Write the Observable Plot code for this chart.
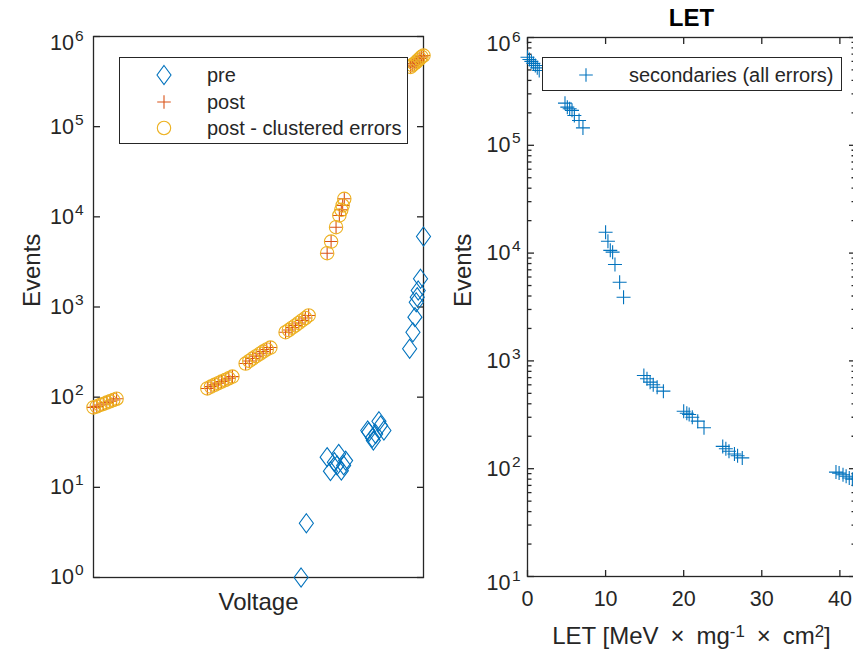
<!DOCTYPE html>
<html>
<head>
<meta charset="utf-8">
<script src="https://cdn.jsdelivr.net/npm/d3@7"></script>
<script src="https://cdn.jsdelivr.net/npm/@observablehq/plot@0.6"></script>
<style>
html, body { margin: 0; padding: 0; background: #fff; overflow: hidden; }
#chart { position: relative; width: 853px; height: 651px; overflow: hidden; background: #fff;
  font-family: "Liberation Sans", Arial, Helvetica, sans-serif; color: #262626; }
.legend { position: absolute; box-sizing: border-box; border: 1px solid #262626; background: #fff; font-size: 20px; }
.legend .sym { position: absolute; }
.legend .lab { position: absolute; line-height: 1; white-space: nowrap; transform: translateY(-50%); }
</style>
</head>
<body>
<div id="chart"></div>
<script>
// ---------------- data ----------------
// Left panel: events vs. voltage (voltage in arbitrary relative units)
const preVoltage = [62.9, 64.5,
  70.8, 71.8, 73.0, 73.8, 74.3, 75.1, 75.8, 76.4,
  83.1, 83.4, 84.5, 84.8, 85.5, 86.5, 87.0, 88.0,
  95.8, 96.8, 97.4, 97.8, 98.1, 98.4, 99.1, 100.0];
const preEvents = [1, 4,
  21.6, 15.1, 19, 17.5, 23.5, 15.3, 17.5, 19.8,
  42.7, 41, 35.4, 33, 39, 54, 48.6, 42.7,
  344, 525, 771, 1130, 1285, 1524, 2055, 6050];

const postVoltage = [0, 1, 2, 3, 4, 5, 6, 7,
  34.5, 35.6, 36.7, 37.8, 38.8, 39.9, 41.0, 42.1,
  46.1, 47.2, 48.2, 49.3, 50.4, 51.4, 52.5, 53.6,
  58.2, 59.2, 60.2, 61.2, 62.2, 63.2, 64.2, 65.2,
  70.8, 72.0, 73.5, 74.5, 75.1, 75.5, 76.0,
  96.1, 96.6, 97.2, 97.8, 98.3, 98.9, 99.4, 100.0];
const postEvents = [77, 79, 82, 84, 87, 90, 93, 96,
  125, 131, 137, 143, 149, 155, 162, 169,
  236, 252, 268, 285, 303, 320, 338, 355,
  525, 555, 590, 625, 665, 710, 755, 805,
  3950, 5320, 7670, 10350, 11970, 13360, 15850,
  460000, 480000, 500000, 520000, 545000, 570000, 595000, 615000];

const clusteredVoltage = postVoltage.slice();
const clusteredEvents = postEvents.slice();

// Right panel: secondaries vs. LET
const letValues = [0.0, 0.25, 0.5, 0.75, 1.0, 1.25, 1.5,
  4.8, 5.1, 5.4, 5.7, 6.0, 6.6, 7.1,
  10.0, 10.3, 10.6, 10.9, 11.2, 11.8, 12.3,
  14.9, 15.3, 15.7, 16.1, 16.6, 17.4,
  20.0, 20.4, 20.7, 21.1, 21.8, 22.6,
  25.0, 25.4, 25.8, 26.5, 26.9, 27.5,
  39.5, 39.9, 40.4, 40.8, 41.2, 41.6];
const letEvents = [656000, 625000, 600000, 575000, 550000, 523000, 494000,
  246000, 226000, 218000, 211000, 189000, 170000, 145000,
  15600, 12900, 10600, 10200, 7830, 5370, 3900,
  733, 683, 635, 600, 570, 524,
  341, 327, 318, 300, 276, 240,
  161, 153, 145, 137, 132, 126,
  93, 91, 88, 85, 82, 80];

// axes / labels
const leftYTicks = [1, 10, 100, 1000, 10000, 100000, 1000000];
const rightYTicks = [10, 100, 1000, 10000, 100000, 1000000];
const rightXTicks = [0, 10, 20, 30, 40];
const leftSeriesNames = ["pre", "post", "post - clustered errors"];
const rightSeriesNames = ["secondaries (all errors)"];
const leftXLabel = "Voltage";
const yLabel = "Events";
const rightTitle = "LET";
// [text, isSuperscript]
const rightXLabelParts = [["LET [MeV\u2002×\u2002mg", false], ["-1", true], ["\u2002×\u2002cm", false], ["2", true], ["]", false]];
const rightXLabel = rightXLabelParts.map(p => p[0]).join("");

// ---------------- styles ----------------
const C_PRE = "#0072BD", C_POST = "#D95319", C_CLU = "#EDB120", AX = "#262626";
const FONT = '"Liberation Sans", Arial, Helvetica, sans-serif';
const W = 853, H = 651;
const TICK_FS = 21.5, EXP_FS = 15.5, LABEL_FS = 24;

const plusSym = { draw(c, s) { const r = Math.sqrt(s / Math.PI); c.moveTo(-r, 0); c.lineTo(r, 0); c.moveTo(0, -r); c.lineTo(0, r); } };
const diamondSym = { draw(c, s) { const h = Math.sqrt(s / Math.PI), w = h * 0.74; c.moveTo(0, -h); c.lineTo(w, 0); c.lineTo(0, h); c.lineTo(-w, 0); c.closePath(); } };
const tickSym = (dx, dy) => ({ draw(c) { c.moveTo(0, 0); c.lineTo(dx, dy); } });

const rows = (xs, ys) => xs.map((x, i) => ({x, y: ys[i]}));
const expOf = (d) => String(Math.round(Math.log10(d)));
const txt = {fontFamily: FONT, fill: AX, lineAnchor: "middle"};

function yTickMarks(ticks, shifted, baseDx, expDx) {
  const marks = [];
  const normal = ticks.filter(t => !shifted.includes(t));
  const sh = ticks.filter(t => shifted.includes(t));
  for (const [data, dy] of [[normal, 0], [sh, 7]]) {
    marks.push(Plot.text(data, {y: d => d, frameAnchor: "left", text: () => "10", textAnchor: "end",
      dx: baseDx, dy, fontSize: TICK_FS, ...txt}));
    marks.push(Plot.text(data, {y: d => d, frameAnchor: "left", text: expOf, textAnchor: "start",
      dx: expDx, dy: dy - 7, fontSize: EXP_FS, ...txt}));
  }
  return marks;
}

const svgStyle = `position:absolute;left:0;top:0;background:transparent;max-width:none;overflow:visible;font-family:${FONT};`;

// ---------------- left panel ----------------
const left = Plot.plot({
  width: W, height: H,
  marginLeft: 93, marginRight: W - 423, marginTop: 36, marginBottom: H - 577,
  style: svgStyle,
  x: {domain: [0, 100], axis: null},
  y: {type: "log", domain: [1, 1e6], axis: null},
  marks: [
    Plot.frame({stroke: AX, strokeWidth: 1.3}),
    Plot.dot(leftYTicks, {y: d => d, frameAnchor: "left", symbol: tickSym(6.5, 0), r: 3, fill: "none", stroke: AX, strokeWidth: 1.3}),
    Plot.dot(leftYTicks, {y: d => d, frameAnchor: "right", symbol: tickSym(-6.5, 0), r: 3, fill: "none", stroke: AX, strokeWidth: 1.3}),
    ...yTickMarks(leftYTicks, [1e6], -19.5, -18.5),
    Plot.text([leftXLabel], {frameAnchor: "bottom", text: d => d, dy: 25, fontSize: LABEL_FS, ...txt}),
    Plot.text([yLabel], {frameAnchor: "left", text: d => d, rotate: -90, dx: -61, fontSize: LABEL_FS, ...txt}),
    Plot.dot(rows(preVoltage, preEvents), {x: "x", y: "y", symbol: diamondSym, r: 9.5, fill: "none", stroke: C_PRE, strokeWidth: 1.1}),
    Plot.dot(rows(postVoltage, postEvents), {x: "x", y: "y", symbol: plusSym, r: 6.5, fill: "none", stroke: C_POST, strokeWidth: 1.1}),
    Plot.dot(rows(clusteredVoltage, clusteredEvents), {x: "x", y: "y", symbol: "circle", r: 6.7, fill: "none", stroke: C_CLU, strokeWidth: 1.1})
  ]
});

// ---------------- right panel ----------------
const minorTicks = [];
for (let k = 1; k < 6; k++) for (let m = 2; m <= 9; m++) minorTicks.push(m * Math.pow(10, k));
const RW = 856;
const right = Plot.plot({
  width: RW, height: H,
  marginLeft: 527, marginRight: RW - 855, marginTop: 37, marginBottom: H - 576,
  style: svgStyle,
  x: {domain: [0, 42], axis: null},
  y: {type: "log", domain: [10, 1e6], axis: null},
  marks: [
    Plot.frame({stroke: AX, strokeWidth: 1.3}),
    Plot.dot(rightYTicks, {y: d => d, frameAnchor: "left", symbol: tickSym(6.5, 0), r: 3, fill: "none", stroke: AX, strokeWidth: 1.3}),
    Plot.dot(minorTicks, {y: d => d, frameAnchor: "left", symbol: tickSym(4, 0), r: 3, fill: "none", stroke: AX, strokeWidth: 1.3}),
    Plot.dot(rightYTicks, {y: d => d, frameAnchor: "right", symbol: tickSym(-6.5, 0), r: 3, fill: "none", stroke: AX, strokeWidth: 1.3}),
    Plot.dot(minorTicks, {y: d => d, frameAnchor: "right", symbol: tickSym(-4, 0), r: 3, fill: "none", stroke: AX, strokeWidth: 1.3}),
    Plot.dot(rightXTicks, {x: d => d, frameAnchor: "bottom", symbol: tickSym(0, -6.5), r: 3, fill: "none", stroke: AX, strokeWidth: 1.3}),
    Plot.dot(rightXTicks, {x: d => d, frameAnchor: "top", symbol: tickSym(0, 6.5), r: 3, fill: "none", stroke: AX, strokeWidth: 1.3}),
    ...yTickMarks(rightYTicks, [10, 1e6], -17, -15.5),
    Plot.text(rightXTicks, {x: d => d, frameAnchor: "bottom", text: d => String(d), dy: 23, fontSize: TICK_FS, ...txt}),
    Plot.text([rightXLabel], {frameAnchor: "bottom", text: d => d, dy: 60, fontSize: LABEL_FS, ...txt}),
    Plot.text([yLabel], {frameAnchor: "left", text: d => d, rotate: -90, dx: -64, fontSize: LABEL_FS, ...txt}),
    Plot.text([rightTitle], {frameAnchor: "top", text: d => d, dy: -19, fontSize: 24, fontWeight: "bold", ...txt, fill: "#000"}),
    Plot.dot(rows(letValues, letEvents), {x: "x", y: "y", symbol: plusSym, r: 7, fill: "none", stroke: C_PRE, strokeWidth: 1.1})
  ]
});

// rich text for the LET axis label (superscripts)
d3.select(right).selectAll("text").filter(function() { return this.textContent === rightXLabel; })
  .each(function() {
    const t = d3.select(this);
    t.text(null);
    let raised = false;
    for (const [s, sup] of rightXLabelParts) {
      const ts = t.append("tspan").text(s);
      if (sup && !raised) { ts.attr("dy", "-0.45em").attr("font-size", "70%"); raised = true; }
      else if (!sup && raised) { ts.attr("dy", "0.315em"); raised = false; }
    }
  });

const chart = document.getElementById("chart");
chart.appendChild(left);
chart.appendChild(right);

// ---------------- legends ----------------
function symbolSVG(kind, color) {
  const ns = "http://www.w3.org/2000/svg";
  const s = document.createElementNS(ns, "svg");
  s.setAttribute("width", 24); s.setAttribute("height", 24);
  s.setAttribute("viewBox", "-12 -12 24 24");
  const p = document.createElementNS(ns, "path");
  let d;
  if (kind === "diamond") d = "M0,-9.5L7,0L0,9.5L-7,0Z";
  else if (kind === "plus") d = "M-6.8,0H6.8M0,-6.8V6.8";
  else d = "M6.7,0A6.7,6.7 0 1,1 -6.7,0A6.7,6.7 0 1,1 6.7,0Z";
  p.setAttribute("d", d); p.setAttribute("fill", "none");
  p.setAttribute("stroke", color); p.setAttribute("stroke-width", 1.1);
  s.appendChild(p);
  return s;
}
function legend(box, entries) {
  const div = document.createElement("div");
  div.className = "legend";
  Object.assign(div.style, {left: box.x + "px", top: box.y + "px", width: box.w + "px", height: box.h + "px"});
  entries.forEach((e, i) => {
    const cy = box.first + i * box.step;
    const sym = symbolSVG(e.kind, e.color);
    sym.setAttribute("class", "sym");
    sym.style.left = (box.symX - 12) + "px"; sym.style.top = (cy - 12) + "px";
    div.appendChild(sym);
    const lab = document.createElement("div");
    lab.className = "lab"; lab.textContent = e.name;
    lab.style.left = box.textX + "px"; lab.style.top = cy + "px";
    div.appendChild(lab);
  });
  chart.appendChild(div);
}
legend({x: 119, y: 57, w: 289, h: 87, first: 17, step: 26.7, symX: 44, textX: 87}, [
  {name: leftSeriesNames[0], kind: "diamond", color: C_PRE},
  {name: leftSeriesNames[1], kind: "plus", color: C_POST},
  {name: leftSeriesNames[2], kind: "circle", color: C_CLU}
]);
legend({x: 542, y: 57, w: 300, h: 34, first: 16.5, step: 0, symX: 43, textX: 86}, [
  {name: rightSeriesNames[0], kind: "plus", color: C_PRE}
]);
</script>
</body>
</html>
